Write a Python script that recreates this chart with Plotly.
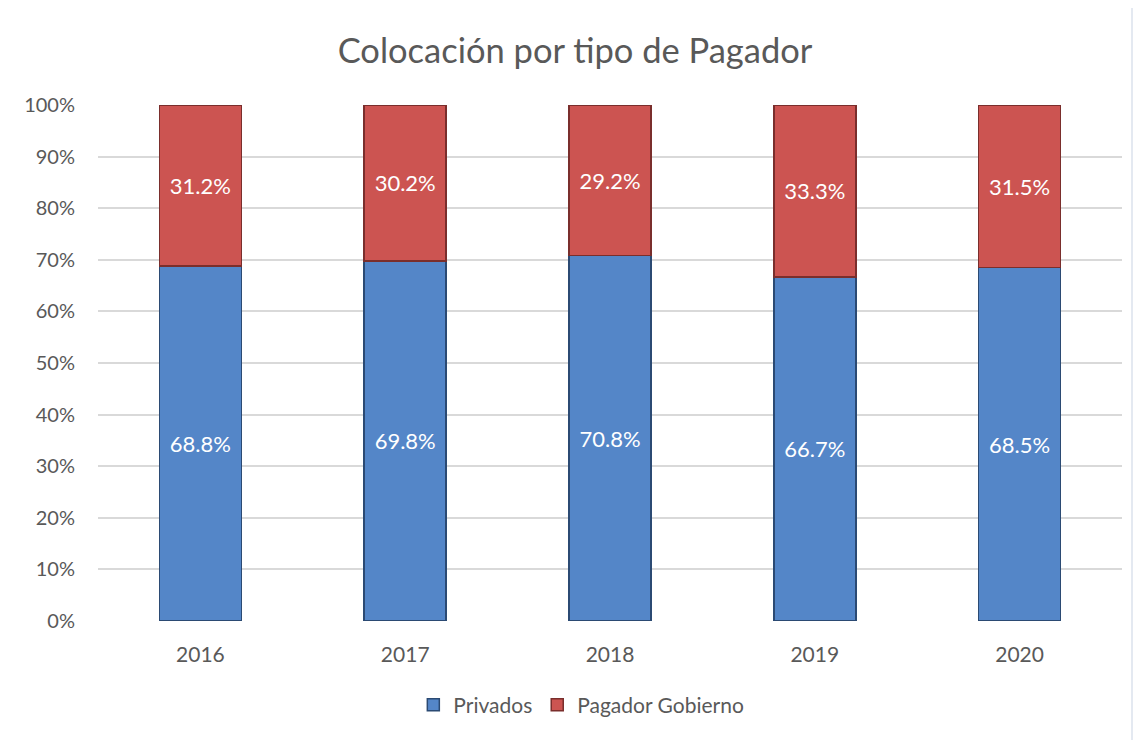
import plotly.graph_objects as go

years = ["2016", "2017", "2018", "2019", "2020"]
privados = [68.8, 69.8, 70.8, 66.7, 68.5]
gobierno = [31.2, 30.2, 29.2, 33.3, 31.5]
tick_vals = [0, 10, 20, 30, 40, 50, 60, 70, 80, 90, 100]
tick_text = [f"{v}%" for v in tick_vals]

FONT = "Lato, Open Sans, sans-serif"
GRAY = "#595959"

fig = go.Figure()
fig.add_trace(go.Bar(
    x=years, y=privados, name="Privados",
    marker=dict(color="#5486C8", line=dict(color="#2B4A73", width=1.5)),
    text=[f"{v:.1f}%" for v in privados], textposition="inside",
    insidetextanchor="middle", textfont=dict(color="white", size=22, family=FONT),
    hoverinfo="skip",
))
fig.add_trace(go.Bar(
    x=years, y=gobierno, name="Pagador Gobierno",
    marker=dict(color="#CC5451", line=dict(color="#7A2E2C", width=1.5)),
    text=[f"{v:.1f}%" for v in gobierno], textposition="inside",
    insidetextanchor="middle", textfont=dict(color="white", size=22, family=FONT),
    hoverinfo="skip",
))

fig.update_layout(
    barmode="stack",
    bargap=0.6,
    width=1141, height=740,
    margin=dict(l=90, r=27, t=97, b=127),
    paper_bgcolor="#E4E9F1",
    plot_bgcolor="white",
    font=dict(family=FONT, color=GRAY),
    title=dict(text="Colocación por tipo de Pagador", x=(575 - 8) / 1141, xanchor="center",
               y=1 - 43 / 740, yanchor="middle",
               font=dict(size=34.5, color=GRAY, family=FONT)),
    uniformtext=dict(mode=False),
    legend=dict(orientation="h", x=0.472, xanchor="center", y=-0.163, yanchor="middle",
                font=dict(size=21, color=GRAY, family=FONT), traceorder="normal",
                bgcolor="rgba(0,0,0,0)", itemwidth=30),
    shapes=[dict(type="rect", xref="paper", yref="paper", layer="below",
                 x0=-0.0898, x1=1.0088, y0=-0.3, y1=1.19,
                 fillcolor="white", line=dict(width=0))],
)
fig.update_yaxes(range=[0, 100], tickvals=tick_vals, ticktext=tick_text,
                 showgrid=True, gridcolor="#D9D9D9", gridwidth=1.5, zeroline=False,
                 tickfont=dict(size=20, color=GRAY), ticks="", ticklabelstandoff=22)
fig.update_xaxes(tickfont=dict(size=21, color=GRAY), ticks="", showline=False,
                 ticklabelstandoff=19)

fig.write_html("out.html")
